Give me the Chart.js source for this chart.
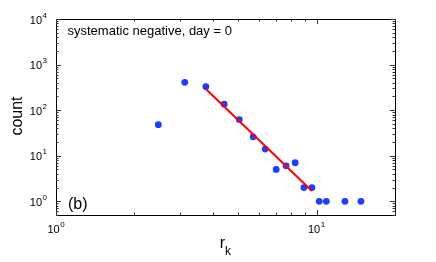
<!DOCTYPE html>
<html>
<head>
<meta charset="utf-8">
<script src="https://cdn.jsdelivr.net/npm/chart.js@4"></script>
<style>
html,body{margin:0;padding:0;background:#fff;}
#wrap{width:436px;height:262px;position:relative;}
</style>
</head>
<body>
<div id="wrap"><canvas id="c" width="436" height="262"></canvas></div>
<script>
// ---- data ----
const rk = [2.47, 3.12, 3.76, 4.42, 5.05, 5.71, 6.35, 7.0, 7.64, 8.28, 8.94, 9.6, 10.24, 10.9, 12.85, 14.8];
const counts = [48, 407, 328, 135, 62, 26, 14, 5, 6, 7, 2, 2, 1, 1, 1, 1];
const fitX = [3.76, 9.6];
const fitY = [292, 1.68];
const xTickValues = [1, 10];
const xTickExponents = ["0", "1"];
const yTickValues = [1, 10, 100, 1000, 10000];
const yTickExponents = ["0", "1", "2", "3", "4"];
const tickBase = "10";
const annotation = "systematic negative, day = 0";
const panelLabel = "(b)";
const yTitle = "count";
const xTitleMain = "r";
const xTitleSub = "k";

const FONT = "'Liberation Sans', Arial, Helvetica, sans-serif";

const framePlugin = {
  id: 'frame',
  afterDraw(chart) {
    const ctx = chart.ctx;
    const a = chart.chartArea;
    const xs = chart.scales.x, ys = chart.scales.y;
    ctx.save();
    ctx.strokeStyle = '#000';
    ctx.lineWidth = 1;
    ctx.strokeRect(Math.round(a.left) + 0.5, Math.round(a.top) + 0.5,
                   Math.round(a.right - a.left), Math.round(a.bottom - a.top));
    ctx.strokeStyle = '#333';
    ctx.beginPath();
    for (let d = 1; d <= 10; d *= 10) {
      for (let m = 1; m <= 9; m++) {
        const v = m * d;
        if (v < xs.min || v > xs.max) continue;
        const px = Math.round(xs.getPixelForValue(v)) + 0.5;
        const len = (m === 1) ? 5 : 2.5;
        ctx.moveTo(px, a.bottom); ctx.lineTo(px, a.bottom - len);
        ctx.moveTo(px, a.top); ctx.lineTo(px, a.top + len);
      }
    }
    for (let d = 0.1; d <= 10000; d *= 10) {
      for (let m = 1; m <= 9; m++) {
        const v = m * d;
        if (v < ys.min * 0.999 || v > ys.max * 1.001) continue;
        const py = Math.round(ys.getPixelForValue(v)) + 0.5;
        const len = (m === 1) ? 5 : 2.5;
        ctx.moveTo(a.left, py); ctx.lineTo(a.left + len, py);
        ctx.moveTo(a.right, py); ctx.lineTo(a.right - len, py);
      }
    }
    ctx.stroke();

    ctx.fillStyle = '#000';
    ctx.textBaseline = 'middle';

    // tick labels 10^n with raised exponent, positioned from the scales
    const baseFont = '11px ' + FONT, expFont = '8px ' + FONT;
    yTickValues.forEach((v, i) => {
      const py = ys.getPixelForValue(v);
      ctx.font = expFont;
      const ew = ctx.measureText(yTickExponents[i]).width;
      ctx.textAlign = 'right';
      ctx.fillText(yTickExponents[i], 47, py - 3.5);
      ctx.font = baseFont;
      ctx.fillText(tickBase, 47 - ew - 0.5, py + 1.5);
    });
    xTickValues.forEach((v, i) => {
      const px = xs.getPixelForValue(v);
      ctx.font = baseFont;
      const bw = ctx.measureText(tickBase).width;
      ctx.font = expFont;
      const ew = ctx.measureText(xTickExponents[i]).width;
      const x0 = px - (bw + ew + 0.5) / 2;
      ctx.textAlign = 'left';
      ctx.font = baseFont;
      ctx.fillText(tickBase, x0, 229.5);
      ctx.font = expFont;
      ctx.fillText(xTickExponents[i], x0 + bw + 0.5, 224.5);
    });

    ctx.textAlign = 'left';
    ctx.font = '13px ' + FONT;
    ctx.fillText(annotation, a.left + 11.5, 31.5);
    ctx.font = '16px ' + FONT;
    ctx.fillText(panelLabel, a.left + 12, 205);

    ctx.save();
    ctx.translate(18, 116);
    ctx.rotate(-Math.PI / 2);
    ctx.textAlign = 'center';
    ctx.font = '16px ' + FONT;
    ctx.fillText(yTitle, 0, 0);
    ctx.restore();

    ctx.font = '16px ' + FONT;
    ctx.textAlign = 'left';
    const rw = ctx.measureText(xTitleMain).width;
    const cx = 225;
    ctx.fillText(xTitleMain, cx - rw, 244);
    ctx.font = '12px ' + FONT;
    ctx.fillText(xTitleSub, cx, 252);
    ctx.restore();
  }
};

new Chart(document.getElementById('c'), {
  type: 'scatter',
  data: {
    datasets: [
      {
        type: 'line',
        data: fitX.map((x, i) => ({x: x, y: fitY[i]})),
        borderColor: '#ff0000',
        borderWidth: 2,
        pointRadius: 0,
        fill: false,
        tension: 0
      },
      {
        data: rk.map((x, i) => ({x: x, y: counts[i]})),
        backgroundColor: '#1f3cff',
        borderColor: '#1f3cff',
        borderWidth: 0,
        pointRadius: 3.4,
        pointHoverRadius: 3.4
      }
    ]
  },
  options: {
    responsive: false,
    animation: false,
    events: [],
    layout: { padding: { top: 19, right: 41, left: 0, bottom: 0 } },
    plugins: { legend: { display: false }, tooltip: { enabled: false } },
    scales: {
      x: {
        type: 'logarithmic',
        min: 1, max: 20,
        grid: { display: false, drawTicks: false },
        border: { display: false },
        afterBuildTicks: s => { s.ticks = xTickValues.map(v => ({value: v})); },
        afterFit: s => { s.height = 47; },
        ticks: { display: false }
      },
      y: {
        type: 'logarithmic',
        min: 0.5, max: 10000,
        grid: { display: false, drawTicks: false },
        border: { display: false },
        afterBuildTicks: s => { s.ticks = yTickValues.map(v => ({value: v})); },
        afterFit: s => { s.width = 56; },
        ticks: { display: false }
      }
    }
  },
  plugins: [framePlugin]
});
</script>
</body>
</html>
